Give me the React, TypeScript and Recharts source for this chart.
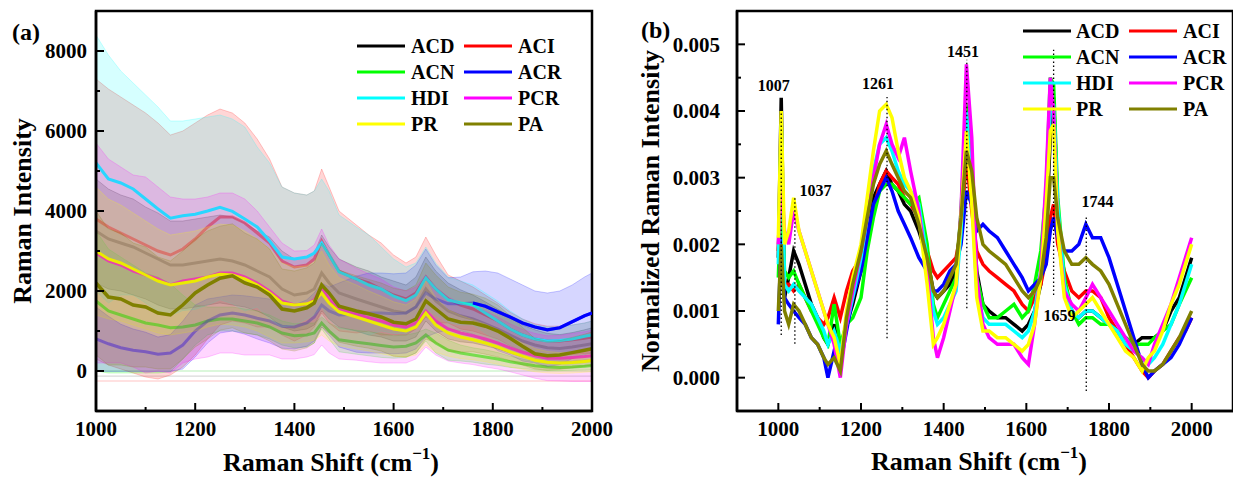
import React from 'react';
import { ComposedChart, Line, Area, XAxis, YAxis, ReferenceLine, ReferenceArea, ReferenceDot } from 'recharts';

const FONT = '"Liberation Serif", "Times New Roman", Times, serif';

const SERIES_NAMES = ['ACD', 'ACI', 'ACN', 'ACR', 'HDI', 'PCR', 'PR', 'PA'];
const SERIES_COLORS = ['#000000', '#FF0000', '#00FF00', '#0000FF', '#00FFFF', '#FF00FF', '#FFFF00', '#808000'];
// how strongly each mean line shows in panel (a) (groups plotted early sit under many bands)
const LEFT_LINE_OPACITY = [0.3, 0.55, 0.7, 0.45, 1, 0.9, 1, 1];
// beyond this shift the ACR mean lies above every other band and is seen uncovered
const ACR_EXPOSED_FROM = 1760;

// ---------- Panel (a): mean spectra with ±SD bands ----------
const LEFT_X = [1000, 1025, 1050, 1075, 1100, 1125, 1150, 1175, 1200, 1225, 1250, 1275, 1300, 1325, 1350, 1375, 1400, 1425, 1440, 1455, 1470, 1490, 1525, 1550, 1575, 1600, 1625, 1645, 1665, 1685, 1710, 1735, 1760, 1785, 1810, 1835, 1860, 1885, 1910, 1935, 1960, 1985, 2000];

const ACD_MEAN = [3500, 3300, 3200, 3100, 2950, 2800, 2650, 2650, 2700, 2750, 2800, 2750, 2650, 2500, 2350, 2050, 1900, 1950, 2050, 2450, 2200, 1950, 1800, 1700, 1600, 1500, 1450, 1600, 2050, 1750, 1500, 1380, 1300, 1180, 1050, 900, 750, 650, 580, 560, 600, 650, 680];
const ACD_SD = [1300, 1250, 1200, 1200, 1150, 1150, 1100, 1100, 1100, 1100, 1100, 1100, 1050, 1000, 1000, 950, 900, 900, 900, 950, 900, 850, 800, 800, 750, 750, 700, 750, 800, 750, 700, 650, 600, 550, 500, 450, 400, 380, 360, 350, 360, 380, 400];

const ACI_MEAN = [3800, 3600, 3450, 3300, 3150, 3000, 2900, 3050, 3300, 3600, 3850, 3850, 3700, 3450, 3200, 2750, 2600, 2650, 2800, 3250, 2900, 2500, 2300, 2200, 2050, 1900, 1800, 1950, 2350, 2050, 1800, 1650, 1550, 1400, 1250, 1050, 900, 800, 750, 750, 780, 820, 850];
const ACI_SD = [3500, 3450, 3400, 3350, 3300, 3200, 3000, 2950, 2900, 2800, 2700, 2600, 2500, 2350, 2100, 1850, 1850, 1750, 1700, 1800, 1700, 1500, 1350, 1200, 1150, 1000, 900, 900, 1000, 850, 600, 600, 550, 500, 450, 420, 400, 380, 370, 370, 370, 380, 400];

const ACN_MEAN = [1750, 1500, 1400, 1300, 1200, 1150, 1080, 1100, 1150, 1250, 1300, 1300, 1250, 1200, 1100, 950, 880, 900, 950, 1200, 1000, 780, 720, 680, 640, 600, 620, 700, 900, 700, 520, 450, 400, 350, 300, 230, 180, 130, 100, 90, 100, 120, 140];
const ACN_SD = [1750, 1550, 1450, 1350, 1250, 1200, 1100, 800, 500, 350, 300, 300, 300, 300, 300, 300, 300, 300, 250, 150, 200, 300, 300, 300, 300, 280, 280, 250, 150, 250, 250, 200, 180, 180, 160, 140, 120, 100, 90, 80, 80, 90, 100];

const ACR_MEAN = [800, 680, 580, 520, 480, 420, 450, 650, 1000, 1250, 1400, 1450, 1400, 1320, 1250, 1120, 1100, 1200, 1350, 1650, 1500, 1400, 1420, 1450, 1450, 1430, 1450, 1600, 1950, 1800, 1680, 1680, 1700, 1620, 1480, 1350, 1200, 1100, 1030, 1080, 1230, 1380, 1450];
const ACR_SD = [800, 690, 590, 530, 490, 430, 460, 600, 650, 550, 450, 450, 480, 520, 550, 550, 550, 580, 600, 550, 600, 800, 950, 1000, 1000, 1000, 1000, 1050, 1100, 850, 650, 670, 780, 880, 970, 950, 950, 900, 920, 920, 920, 970, 1000];

const HDI_MEAN = [5200, 4800, 4700, 4550, 4300, 4050, 3820, 3880, 3920, 4000, 4090, 3990, 3800, 3600, 3250, 2850, 2800, 2850, 2950, 3200, 2900, 2480, 2300, 2150, 2050, 1870, 1760, 1900, 2330, 2050, 1780, 1700, 1650, 1450, 1250, 1050, 900, 800, 750, 760, 800, 870, 900];
const HDI_SD = [3200, 3100, 2800, 2650, 2600, 2550, 2430, 2370, 2380, 2350, 2310, 2310, 2300, 2000, 1950, 1750, 1650, 1550, 1550, 1600, 1600, 1420, 1300, 1250, 1050, 930, 840, 800, 770, 650, 570, 550, 500, 500, 500, 450, 400, 350, 350, 340, 350, 330, 350];

const PCR_MEAN = [2950, 2750, 2650, 2500, 2400, 2300, 2150, 2250, 2300, 2350, 2450, 2450, 2350, 2200, 2000, 1750, 1650, 1680, 1780, 2100, 1800, 1550, 1420, 1330, 1250, 1150, 1100, 1200, 1500, 1250, 1050, 950, 880, 800, 700, 580, 470, 380, 320, 320, 340, 360, 380];
const PCR_SD = [2750, 2550, 2450, 2400, 2450, 2300, 2200, 2050, 2000, 2000, 2000, 2000, 1950, 1800, 1600, 1450, 1350, 1330, 1370, 1450, 1350, 1250, 1150, 1100, 1050, 950, 900, 900, 900, 850, 800, 750, 720, 700, 650, 600, 570, 560, 560, 570, 600, 620, 640];

const PR_MEAN = [3000, 2800, 2700, 2550, 2400, 2250, 2150, 2200, 2250, 2350, 2420, 2400, 2300, 2150, 1950, 1700, 1650, 1680, 1750, 1950, 1700, 1480, 1350, 1250, 1150, 1050, 1000, 1100, 1450, 1150, 950, 850, 780, 700, 600, 480, 370, 270, 220, 200, 210, 240, 260];
const PR_SD = [1600, 1500, 1450, 1400, 1350, 1300, 1250, 1250, 1250, 1250, 1250, 1250, 1200, 1150, 1100, 1000, 950, 950, 980, 1050, 950, 850, 800, 750, 720, 680, 650, 700, 800, 680, 580, 540, 500, 470, 430, 380, 330, 290, 270, 260, 260, 270, 280];

const PA_MEAN = [2200, 1850, 1800, 1650, 1600, 1450, 1400, 1650, 1950, 2150, 2320, 2380, 2200, 2100, 1900, 1550, 1500, 1580, 1700, 2150, 1950, 1620, 1500, 1430, 1350, 1220, 1180, 1300, 1750, 1550, 1300, 1220, 1200, 1120, 1000, 820, 620, 430, 380, 400, 460, 520, 560];
const PA_SD = [1800, 1700, 1650, 1550, 1500, 1400, 1350, 1350, 1350, 1350, 1300, 1300, 1250, 1200, 1150, 1000, 1000, 1000, 1000, 1050, 1000, 900, 880, 860, 850, 850, 830, 850, 950, 850, 800, 750, 720, 700, 650, 560, 470, 380, 360, 360, 380, 400, 420];

const LEFT_MEANS = [ACD_MEAN, ACI_MEAN, ACN_MEAN, ACR_MEAN, HDI_MEAN, PCR_MEAN, PR_MEAN, PA_MEAN];
const LEFT_SDS = [ACD_SD, ACI_SD, ACN_SD, ACR_SD, HDI_SD, PCR_SD, PR_SD, PA_SD];

const LEFT_X_TICKS = [1000, 1100, 1200, 1300, 1400, 1500, 1600, 1700, 1800, 1900, 2000];
const LEFT_Y_TICKS = [0, 1000, 2000, 3000, 4000, 5000, 6000, 7000, 8000];
const LEFT_BASELINES = [0, -130, -250];
const LEFT_BASELINE_COLORS = ['#b8f0b8', '#dadada', '#ffc4c4'];

// ---------- Panel (b): normalized spectra ----------
const RIGHT_X = [1000, 1007, 1015, 1025, 1037, 1050, 1065, 1080, 1095, 1110, 1120, 1135, 1150, 1165, 1180, 1200, 1215, 1230, 1245, 1261, 1275, 1290, 1305, 1320, 1340, 1360, 1375, 1385, 1400, 1415, 1430, 1442, 1455, 1468, 1480, 1495, 1510, 1530, 1550, 1570, 1590, 1605, 1620, 1635, 1648, 1658, 1666, 1676, 1692, 1710, 1727, 1744, 1760, 1780, 1800, 1820, 1840, 1860, 1880, 1895, 1910, 1930, 1950, 1970, 1985, 2000];

const ACD_NORM = [.0018, .0042, .0012, .0015, .0019, .0017, .0014, .0011, .0009, .0006, .0005, .0008, .0003, .0008, .0011, .0016, .0021, .0027, .0029, .0031, .0029, .0028, .0026, .0025, .0022, .0018, .0013, .0012, .0013, .0014, .0016, .0024, .0038, .0028, .0016, .0011, .0010, .0009, .0009, .0008, .0007, .0008, .0010, .0014, .0022, .0036, .0042, .0025, .0014, .0010, .0009, .0010, .0010, .0009, .0008, .0007, .0006, .0005, .0006, .0006, .0006, .0007, .0010, .0012, .0015, .0018];
const ACI_NORM = [.0019, .0030, .0014, .0014, .0013, .0014, .0012, .0010, .0009, .0008, .0009, .0012, .0009, .0013, .0016, .0018, .0021, .0025, .0029, .0031, .0030, .0029, .0027, .0026, .0024, .0019, .0016, .0015, .0016, .0017, .0018, .0022, .0033, .0025, .0019, .0017, .0016, .0015, .0014, .0013, .0011, .0010, .0012, .0014, .0018, .0024, .0026, .0020, .0016, .0013, .0012, .0013, .0013, .0012, .0009, .0007, .0005, .0003, .0001, .0000, .0001, .0002, .0004, .0006, .0007, .0009];
const ACN_NORM = [.0015, .0028, .0016, .0015, .0016, .0014, .0012, .0010, .0008, .0006, .0005, .0011, .0005, .0008, .0009, .0012, .0019, .0024, .0028, .0029, .0029, .0028, .0027, .0026, .0027, .0020, .0011, .0009, .0011, .0013, .0015, .0025, .0041, .0030, .0015, .0011, .0009, .0009, .0010, .0011, .0009, .0010, .0014, .0019, .0028, .0045, .0044, .0027, .0015, .0010, .0008, .0009, .0009, .0008, .0008, .0007, .0006, .0005, .0005, .0005, .0006, .0007, .0008, .0011, .0013, .0015];
const ACR_NORM = [.0008, .0021, .0012, .0011, .0010, .0009, .0008, .0006, .0005, .0003, .0000, .0004, .0002, .0007, .0012, .0016, .0021, .0026, .0028, .0030, .0028, .0025, .0023, .0021, .0018, .0016, .0013, .0013, .0014, .0016, .0017, .0020, .0028, .0026, .0022, .0023, .0022, .0021, .0019, .0017, .0015, .0013, .0014, .0015, .0017, .0022, .0024, .0021, .0019, .0019, .0020, .0023, .0021, .0021, .0018, .0014, .0010, .0006, .0002, .0000, .0001, .0002, .0003, .0005, .0007, .0009];
const HDI_NORM = [.0017, .0038, .0014, .0013, .0014, .0013, .0012, .0011, .0009, .0007, .0005, .0007, .0004, .0008, .0012, .0018, .0024, .0031, .0035, .0036, .0034, .0031, .0029, .0028, .0026, .0018, .0010, .0008, .0009, .0011, .0013, .0022, .0040, .0028, .0013, .0009, .0008, .0008, .0008, .0007, .0006, .0007, .0010, .0016, .0027, .0040, .0041, .0026, .0014, .0010, .0009, .0010, .0010, .0009, .0008, .0007, .0005, .0004, .0003, .0002, .0003, .0005, .0008, .0011, .0014, .0017];
const PCR_NORM = [.0020, .0030, .0022, .0020, .0025, .0022, .0019, .0016, .0013, .0010, .0008, .0005, .0000, .0008, .0013, .0019, .0024, .0030, .0035, .0038, .0035, .0033, .0036, .0031, .0025, .0016, .0006, .0003, .0006, .0010, .0014, .0025, .0047, .0036, .0015, .0008, .0006, .0005, .0005, .0005, .0003, .0002, .0008, .0016, .0030, .0045, .0040, .0022, .0013, .0011, .0010, .0012, .0014, .0012, .0010, .0008, .0006, .0004, .0003, .0002, .0005, .0008, .0011, .0015, .0018, .0021];
const PR_NORM = [.0021, .0040, .0020, .0022, .0027, .0022, .0019, .0016, .0013, .0010, .0008, .0006, .0002, .0010, .0015, .0020, .0027, .0034, .0040, .0041, .0039, .0034, .0030, .0028, .0024, .0014, .0005, .0006, .0008, .0011, .0014, .0024, .0037, .0026, .0012, .0007, .0007, .0006, .0006, .0005, .0004, .0005, .0008, .0015, .0026, .0037, .0038, .0022, .0012, .0009, .0010, .0011, .0012, .0010, .0008, .0006, .0004, .0003, .0001, .0003, .0004, .0007, .0011, .0014, .0017, .0020];
const PA_NORM = [.0010, .0020, .0010, .0008, .0011, .0010, .0008, .0006, .0005, .0003, .0002, .0003, .0001, .0009, .0014, .0019, .0024, .0029, .0032, .0034, .0032, .0030, .0028, .0027, .0023, .0018, .0013, .0012, .0013, .0015, .0017, .0024, .0034, .0031, .0024, .0020, .0019, .0018, .0017, .0015, .0013, .0012, .0013, .0015, .0021, .0030, .0030, .0024, .0019, .0017, .0017, .0018, .0017, .0016, .0014, .0011, .0008, .0005, .0002, .0001, .0001, .0002, .0004, .0006, .0008, .0010];

const RIGHT_VALUES = [ACD_NORM, ACI_NORM, ACN_NORM, ACR_NORM, HDI_NORM, PCR_NORM, PR_NORM, PA_NORM];

const RIGHT_X_TICKS = [1000, 1100, 1200, 1300, 1400, 1500, 1600, 1700, 1800, 1900, 2000];
const RIGHT_Y_TICKS = [0, 0.0005, 0.001, 0.0015, 0.002, 0.0025, 0.003, 0.0035, 0.004, 0.0045, 0.005];

const PEAK_LABELS = ['1007', '1037', '1261', '1451', '1659', '1744'];
const PEAK_LINE_X = [1007, 1040, 1263, 1456, 1666, 1745];
const PEAK_LINE_TOP = [0.00419, 0.00269, 0.00421, 0.00477, 0.00492, 0.00241];
const PEAK_LINE_BOTTOM = [0.00064, 0.00051, 0.00059, 0.00104, 0.00124, -0.0002];
const PEAK_LABEL_X = [989, 1090, 1241, 1447, 1680, 1772];
const PEAK_LABEL_Y = [0.00439, 0.00281, 0.00441, 0.00489, 0.00094, 0.00265];

// ---------- tables built from the arrays ----------
const leftData = LEFT_X.map((x, i) => {
  const row: Record<string, any> = { x };
  SERIES_NAMES.forEach((n, s) => {
    const m = LEFT_MEANS[s][i];
    const sd = LEFT_SDS[s][i];
    row[n] = m;
    row[n + '_band'] = [m - sd, m + sd];
  });
  row.ACR_exposed = x >= ACR_EXPOSED_FROM ? ACR_MEAN[i] : null;
  return row;
});

const rightData = RIGHT_X.map((x, i) => {
  const row: Record<string, any> = { x };
  SERIES_NAMES.forEach((n, s) => {
    row[n] = RIGHT_VALUES[s][i];
  });
  return row;
});

// ---------- ticks ----------
const makeXTick = (isMajor: (v: number) => boolean) => (props: any) => {
  const { x, y, payload } = props;
  const v = payload.value;
  const major = isMajor(v);
  return (
    <g>
      <line x1={x} x2={x} y1={y} y2={y - (major ? 8 : 4)} stroke="#000" strokeWidth={2} />
      {major && (
        <text x={x} y={y + 25} textAnchor="middle" fontFamily={FONT} fontWeight="bold" fontSize={21} fill="#000">
          {v}
        </text>
      )}
    </g>
  );
};

const makeYTick = (isMajor: (v: number) => boolean, gap: number, fmt: (v: number) => string) => (props: any) => {
  const { x, y, payload } = props;
  const v = payload.value;
  const major = isMajor(v);
  return (
    <g>
      <line x1={x} x2={x + (major ? 8 : 4)} y1={y} y2={y} stroke="#000" strokeWidth={2} />
      {major && (
        <text x={x - gap} y={y} dy="0.35em" textAnchor="end" fontFamily={FONT} fontWeight="bold" fontSize={21} fill="#000">
          {fmt(v)}
        </text>
      )}
    </g>
  );
};

const xMajor = (v: number) => Math.round(v) % 200 === 0;
const leftYMajor = (v: number) => Math.round(v) % 2000 === 0;
const rightYMajor = (v: number) => Math.round(v * 10000) % 10 === 0;

const LeftXTick = makeXTick(xMajor);
const RightXTick = makeXTick(xMajor);
const LeftYTick = makeYTick(leftYMajor, 9, (v) => String(v));
const RightYTick = makeYTick(rightYMajor, 17, (v) => v.toFixed(3));

// ---------- legend ----------
const Legend2Col = ({ lineX, textX, rowY }: { lineX: number[]; textX: number[]; rowY: number[] }) => (
  <g>
    {SERIES_NAMES.map((n, i) => {
      const col = i % 2;
      const row = Math.floor(i / 2);
      const y = rowY[row];
      return (
        <g key={n}>
          <line x1={lineX[col]} x2={lineX[col] + 48} y1={y} y2={y} stroke={SERIES_COLORS[i]} strokeWidth={3.2} />
          <text x={textX[col]} y={y + 7} fontFamily={FONT} fontWeight="bold" fontSize={20} fill="#000">
            {n}
          </text>
        </g>
      );
    })}
  </g>
);

// One layer of panel (a): all layers share size, margins and axis extents, so they line up.
// Each layer holds one group's SD band and its mean line; later layers cover earlier ones.
const LEFT_W = 620;
const LEFT_H = 481;
const LEFT_MARGIN = { top: 11, right: 28, bottom: 30, left: 0 };

const LeftLayer = ({ index, axes }: { index: number | null; axes: boolean }) => (
  <div style={{ position: 'absolute', left: 0, top: 0 }}>
    <ComposedChart width={LEFT_W} height={LEFT_H} data={leftData} margin={LEFT_MARGIN}>
      <XAxis
        dataKey="x"
        type="number"
        domain={[1000, 2000]}
        ticks={LEFT_X_TICKS}
        interval={0}
        tick={axes ? LeftXTick : false}
        tickLine={false}
        tickSize={0}
        tickMargin={0}
        axisLine={axes ? { stroke: '#000', strokeWidth: 2.5 } : false}
        height={40}
        allowDataOverflow
      />
      <YAxis
        type="number"
        domain={[-1000, 9000]}
        ticks={LEFT_Y_TICKS}
        interval={0}
        tick={axes ? LeftYTick : false}
        tickLine={false}
        tickSize={0}
        tickMargin={0}
        axisLine={axes ? { stroke: '#000', strokeWidth: 2.5 } : false}
        width={96}
        allowDataOverflow
      />
      {index === 0 &&
        LEFT_BASELINES.map((b, i) => (
          <ReferenceLine key={'bl' + i} y={b} stroke={LEFT_BASELINE_COLORS[i]} strokeWidth={1.2} />
        ))}
      {index !== null && (
        <Area
          type="linear"
          dataKey={SERIES_NAMES[index] + '_band'}
          fill={SERIES_COLORS[index]}
          fillOpacity={0.16}
          stroke={SERIES_COLORS[index]}
          strokeOpacity={0.3}
          strokeWidth={0.7}
          dot={false}
          activeDot={false}
          isAnimationActive={false}
        />
      )}
      {index !== null && (
        <Line
          type="linear"
          dataKey={SERIES_NAMES[index]}
          stroke={SERIES_COLORS[index]}
          strokeOpacity={LEFT_LINE_OPACITY[index]}
          strokeWidth={index === 7 ? 3.5 : 3}
          dot={false}
          activeDot={false}
          isAnimationActive={false}
        />
      )}
      {axes && (
        <Line
          type="linear"
          dataKey="ACR_exposed"
          stroke={SERIES_COLORS[3]}
          strokeWidth={3.2}
          dot={false}
          activeDot={false}
          connectNulls={false}
          isAnimationActive={false}
        />
      )}
      {axes && <ReferenceArea x1={1000} x2={2000} y1={-1000} y2={9000} fill="none" stroke="#000" strokeWidth={2.5} />}
    </ComposedChart>
  </div>
);

export default function App() {
  return (
    <div style={{ position: 'absolute', left: 0, top: 0, width: 1233, height: 481, background: '#fff', overflow: 'hidden' }}>
      {SERIES_NAMES.map((n, i) => (
        <LeftLayer key={n} index={i} axes={false} />
      ))}
      <LeftLayer index={null} axes={true} />

      <div style={{ position: 'absolute', left: 620, top: 0 }}>
        <ComposedChart width={613} height={481} data={rightData} margin={{ top: 11, right: 0, bottom: 30, left: 0 }}>
          <XAxis
            dataKey="x"
            type="number"
            domain={[900, 2100]}
            ticks={RIGHT_X_TICKS}
            interval={0}
            tick={RightXTick}
            tickLine={false}
            tickSize={0}
            tickMargin={0}
            axisLine={{ stroke: '#000', strokeWidth: 2.5 }}
            height={40}
            allowDataOverflow
          />
          <YAxis
            type="number"
            domain={[-0.0005, 0.0055]}
            ticks={RIGHT_Y_TICKS}
            interval={0}
            tick={RightYTick}
            tickLine={false}
            tickSize={0}
            tickMargin={0}
            axisLine={{ stroke: '#000', strokeWidth: 2.5 }}
            width={117}
            allowDataOverflow
          />
          {SERIES_NAMES.map((n, i) => (
            <Line
              key={n}
              type="linear"
              dataKey={n}
              stroke={SERIES_COLORS[i]}
              strokeWidth={3.5}
              dot={false}
              activeDot={false}
              isAnimationActive={false}
            />
          ))}
          {PEAK_LINE_X.map((px, i) => (
            <ReferenceLine
              key={'pl' + i}
              segment={[
                { x: px, y: PEAK_LINE_BOTTOM[i] },
                { x: px, y: PEAK_LINE_TOP[i] },
              ]}
              stroke="#000"
              strokeWidth={1.3}
              strokeDasharray="1.5 2.5"
              zIndex={600}
            />
          ))}
          {PEAK_LABELS.map((t, i) => (
            <ReferenceDot
              key={'lab' + i}
              x={PEAK_LABEL_X[i]}
              y={PEAK_LABEL_Y[i]}
              r={0}
              fill="none"
              stroke="none"
              zIndex={650}
              label={{ value: t, position: 'center', fontFamily: FONT, fontWeight: 'bold', fontSize: 16, fill: '#000' }}
            />
          ))}
          <ReferenceArea x1={900} x2={2100} y1={-0.0005} y2={0.0055} fill="none" stroke="#000" strokeWidth={2.5} />
        </ComposedChart>
      </div>

      <svg style={{ position: 'absolute', left: 0, top: 0, pointerEvents: 'none' }} width={1233} height={481}>
        <text x={12} y={40} fontFamily={FONT} fontWeight="bold" fontSize={24} fill="#000">(a)</text>
        <text x={641} y={38} fontFamily={FONT} fontWeight="bold" fontSize={24} fill="#000">(b)</text>

        <text x={31} y={211} transform="rotate(-90 31 211)" textAnchor="middle" fontFamily={FONT} fontWeight="bold" fontSize={26} fill="#000">
          Raman Intensity
        </text>
        <text x={659} y={211} transform="rotate(-90 659 211)" textAnchor="middle" fontFamily={FONT} fontWeight="bold" fontSize={26} fill="#000">
          Normalized Raman Intensity
        </text>

        <text x={331} y={471} textAnchor="middle" fontFamily={FONT} fontWeight="bold" fontSize={26} fill="#000">
          Raman Shift (cm<tspan dy={-12} fontSize={17}>−1</tspan><tspan dy={12}>)</tspan>
        </text>
        <text x={979} y={470} textAnchor="middle" fontFamily={FONT} fontWeight="bold" fontSize={26} fill="#000">
          Raman Shift (cm<tspan dy={-12} fontSize={17}>−1</tspan><tspan dy={12}>)</tspan>
        </text>

        <Legend2Col lineX={[357, 464]} textX={[411, 518]} rowY={[46, 72, 98, 124]} />
        <Legend2Col lineX={[1023, 1129]} textX={[1076, 1183]} rowY={[31, 57, 83, 109]} />
      </svg>
    </div>
  );
}
